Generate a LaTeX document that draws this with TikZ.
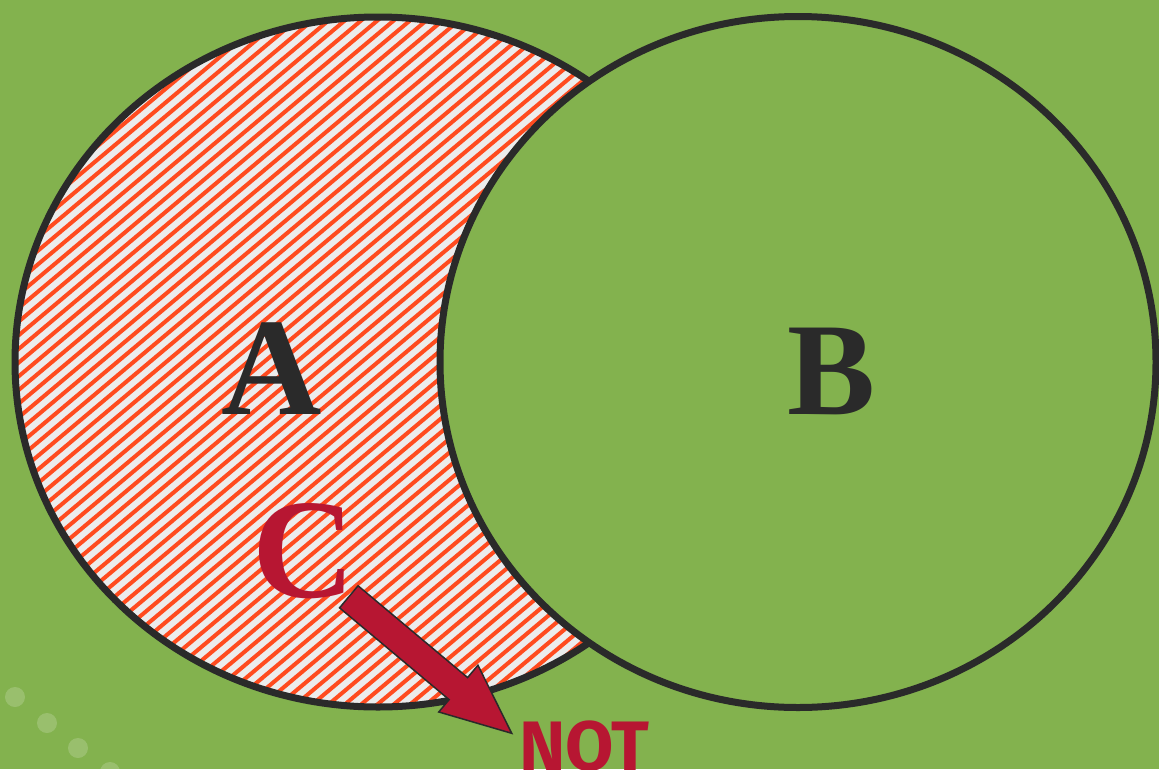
\documentclass[tikz,border=0pt]{standalone}
\usepackage{fontspec}
\setmainfont{Liberation Serif}
\newfontfamily\notfont{Fira Sans}
\usetikzlibrary{calc}
\definecolor{bg}{HTML}{83B24E}
\definecolor{ink}{HTML}{2A2A2A}
\definecolor{hatchred}{HTML}{FF4B1F}
\definecolor{hatchbg}{HTML}{ECECEC}
\definecolor{crimson}{HTML}{B71632}
\tikzset{
  setline/.style={draw=ink, line width=7pt},
  bigletter/.style={font=\fontsize{139}{139}\selectfont\bfseries, text=ink, inner sep=0pt, anchor=base},
  dot/.style={circle, fill=white, fill opacity=0.18, minimum size=20pt, inner sep=0pt},
  blockarrow/.style={fill=crimson, draw=ink, line width=1.5pt, line join=miter},
  stripe/.style={draw=hatchred, line width=4pt}
}
\begin{document}
\begin{tikzpicture}[x=1pt, y=-1pt]
\useasboundingbox (0,0) rectangle (1159,769);
\clip (0,0) rectangle (1159,769);
\fill[bg] (0,0) rectangle (1159,769);
% decorative dots
\node[dot] (d1) at (15,697) {};
\node[dot] (d2) at (47,723) {};
\node[dot] (d3) at (78,748) {};
\node[dot] (d4) at (110,772) {};
% set A with hatching
\coordinate (ca) at (378,362);
\coordinate (cb) at (798,362);
\fill[hatchbg] (ca) ellipse [x radius=363, y radius=345];
\begin{scope}
  \clip (ca) ellipse [x radius=363, y radius=345];
  \foreach \i in {-70,...,70} {
    \draw[stripe] ({378+\i*16.3-900*cos(40)},{362+900*sin(40)}) -- ({378+\i*16.3+900*cos(40)},{362-900*sin(40)});
  }
\end{scope}
\draw[setline] (ca) ellipse [x radius=363, y radius=345];
% set B
\filldraw[setline, fill=bg] (cb) ellipse [x radius=358, y radius=345.5];
% labels
\node[bigletter] (A) at (272,414) {A};
\node[bigletter, font=\fontsize{132}{139}\selectfont\bfseries] (B) at (832,414) {B};
\node[bigletter, text=crimson, font=\fontsize{142}{142}\selectfont\bfseries] (C) at (304,597) {C};
\node[anchor=north west, inner sep=0pt, text=crimson, font=\notfont\fontsize{70}{70}\selectfont\bfseries] (NOT) at (519,721) {NOT};
% block arrow from C to NOT
\coordinate (tail) at (348.8,596.8);
\coordinate (tip) at (511.7,733.3);
\coordinate (neck) at ($(tip)!69.6pt!(tail)$);
\draw[blockarrow]
  ($(tail)!14.4pt!90:(tip)$) -- ($(neck)!14.4pt!-90:(tail)$) -- ($(neck)!30.5pt!-90:(tail)$)
  -- (tip) -- ($(neck)!30.5pt!90:(tail)$) -- ($(neck)!14.4pt!90:(tail)$)
  -- ($(tail)!14.4pt!-90:(tip)$) -- cycle;
\end{tikzpicture}
\end{document}
